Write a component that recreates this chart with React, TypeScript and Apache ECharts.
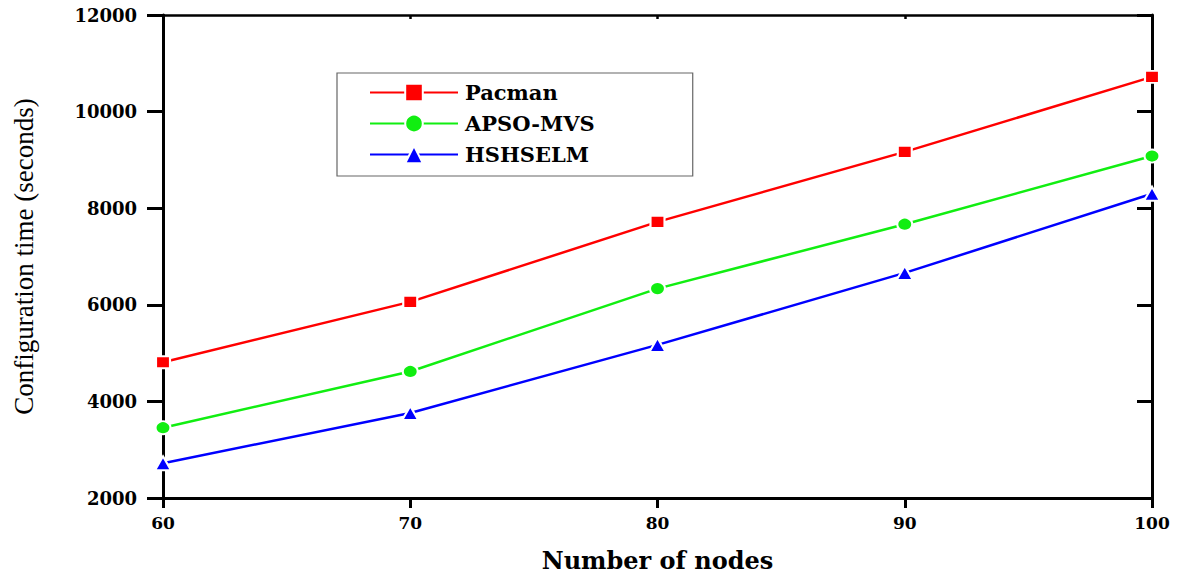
import React, { useEffect, useRef } from "react";
import * as echarts from "echarts";

const nodes = [60, 70, 80, 90, 100];
const pacman = [4810, 6060, 7716, 9167, 10720];
const apsoMvs = [3455, 4620, 6335, 7668, 9080];
const hshselm = [2720, 3760, 5170, 6660, 8300];
const seriesNames = ["Pacman", "APSO-MVS", "HSHSELM"];
const seriesColors = ["#ff0000", "#11ee11", "#0000ff"];
const seriesSymbols = ["rect", "circle", "triangle"];

const labelFont = "'DejaVu Serif', 'Liberation Serif', serif";

export default function App() {
  const ref = useRef<HTMLDivElement>(null);
  useEffect(() => {
    if (!ref.current) return;
    const chart = echarts.init(ref.current, null, { renderer: "svg" });
    const values = [pacman, apsoMvs, hshselm];
    const symbolSizes: any[] = [[14, 12], [15, 13], [16, 14]];
    chart.setOption({
      animation: false,
      backgroundColor: "#ffffff",
      grid: {
        left: 163,
        right: 29,
        top: 15,
        bottom: 75,
        containLabel: false,
        outerBoundsMode: "none",
      },
      legend: {
        orient: "vertical",
        left: 337,
        top: 73,
        padding: [9, 98, 11, 32],
        itemGap: 10,
        itemWidth: 88,
        itemHeight: 22,
        borderColor: "#666",
        borderWidth: 1.2,
        textStyle: {
          fontFamily: labelFont,
          fontWeight: "bold",
          fontSize: 21,
          color: "#000",
          padding: [0, 0, 0, 2],
        },
        data: seriesNames,
      },
      xAxis: [
        {
          type: "value",
          min: 60,
          max: 100,
          interval: 10,
          position: "bottom",
          name: "Number of nodes",
          nameLocation: "middle",
          nameGap: 50,
          nameTextStyle: {
            fontFamily: labelFont,
            fontWeight: "bold",
            fontSize: 24,
            color: "#000",
          },
          axisLine: { lineStyle: { color: "#000", width: 3 } },
          axisTick: { inside: false, length: 10, lineStyle: { color: "#000", width: 3 } },
          axisLabel: {
            margin: 16,
            fontFamily: labelFont,
            fontWeight: "bold",
            fontSize: 17,
            color: "#000",
          },
          splitLine: { show: false },
        },
        {
          type: "value",
          min: 60,
          max: 100,
          interval: 10,
          position: "top",
          axisLine: { lineStyle: { color: "#000", width: 2.5 } },
          axisTick: { inside: true, length: 4, lineStyle: { color: "#000", width: 2.5 } },
          axisLabel: { show: false },
          splitLine: { show: false },
        },
      ],
      yAxis: [
        {
          type: "value",
          min: 2000,
          max: 12000,
          interval: 2000,
          position: "left",
          name: "Configuration time (seconds)",
          nameLocation: "middle",
          nameGap: 126,
          nameRotate: 90,
          nameTextStyle: {
            fontFamily: "'Liberation Serif', serif",
            fontSize: 27,
            color: "#000",
          },
          axisLine: { lineStyle: { color: "#000", width: 3 } },
          axisTick: { inside: false, length: 16, lineStyle: { color: "#000", width: 3 } },
          axisLabel: {
            margin: 26,
            fontFamily: labelFont,
            fontWeight: "bold",
            fontSize: 18,
            color: "#000",
            formatter: (v: number) => String(v),
          },
          splitLine: { show: false },
        },
        {
          type: "value",
          min: 2000,
          max: 12000,
          interval: 2000,
          position: "right",
          axisLine: { lineStyle: { color: "#000", width: 3 } },
          axisTick: { inside: true, length: 15, lineStyle: { color: "#000", width: 3 } },
          axisLabel: { show: false },
          splitLine: { show: false },
        },
      ],
      series: seriesNames.map((name, i) => ({
        name,
        type: "line",
        xAxisIndex: 0,
        yAxisIndex: 0,
        data: nodes.map((n, j) => [n, values[i][j]]),
        symbol: seriesSymbols[i],
        symbolSize: symbolSizes[i],
        showAllSymbol: true,
        clip: false,
        lineStyle: { color: seriesColors[i], width: 2.5 },
        itemStyle: { color: seriesColors[i], borderColor: "#fff", borderWidth: 2 },
      })),
    });
    return () => chart.dispose();
  }, []);
  return (
    <div
      ref={ref}
      style={{ position: "fixed", left: 0, top: 0, width: 1181, height: 573 }}
    />
  );
}
